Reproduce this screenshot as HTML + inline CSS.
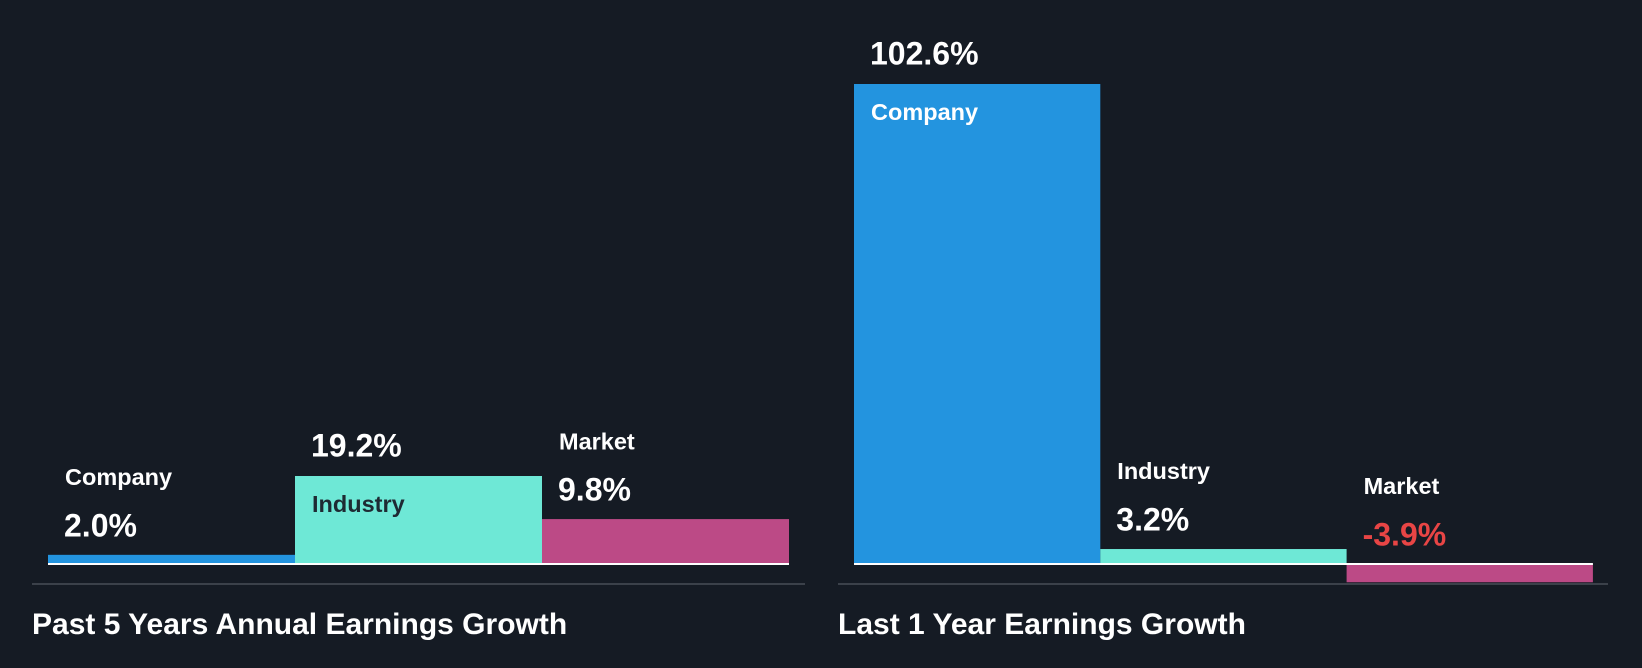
<!DOCTYPE html>
<html><head><meta charset="utf-8"><style>
html,body{margin:0;padding:0;background:#151b24;}
svg{display:block;font-family:"Liberation Sans",sans-serif;font-weight:bold;}
</style></head><body>
<svg id="c" width="1642" height="668">
<rect width="1642" height="668" fill="#151b24"/>
</svg>
<script>
const categories = ["Company","Industry","Market"];
const past5Values = [2.0, 19.2, 9.8];
const last1Values = [102.6, 3.2, -3.9];
const panelTitles = ["Past 5 Years Annual Earnings Growth","Last 1 Year Earnings Growth"];
const colors = ["#2394df","#6ee8d6","#bc4a86"];
const svg = document.getElementById('c');
const NS = "http://www.w3.org/2000/svg";
function el(tag, attrs){const e=document.createElementNS(NS,tag);for(const k in attrs)e.setAttribute(k,attrs[k]);svg.appendChild(e);return e;}
const baseY = 564;
const panels = [
  {vals: past5Values, x0: 48, bw: 247, lineX: 32, lineW: 773, scale: 88/19.2, titleX: 32},
  {vals: last1Values, x0: 854, bw: 246.3, lineX: 838, lineW: 770, scale: 480/102.6, titleX: 838}
];
panels.forEach((p, pi) => {
  const y = v => baseY - v * p.scale;
  p.vals.forEach((v, i) => {
    const x = p.x0 + i * p.bw;
    const top = Math.min(y(v), baseY), h = Math.abs(y(v) - baseY);
    const r = el('rect', {x: x, y: top, width: p.bw, height: Math.max(h, 1), fill: colors[i]});
    
    
    const inside = h > 60 && v > 0;
    let nameY, valY, nameFill = '#ffffff';
    const refTop = v > 0 ? y(v) : baseY;
    if (inside) { valY = refTop - 28; nameY = refTop + 30; if (i === 1) nameFill = '#1e2a33'; }
    else { nameY = refTop - 76; valY = refTop - 27; }
    const t1 = el('text', {x: x + 17, y: nameY, fill: nameFill, 'font-size': 23.5, 'dominant-baseline': 'middle'});
    t1.textContent = categories[i];
    
    
    const t2 = el('text', {x: x + 16, y: valY, fill: v < 0 ? '#e84545' : '#ffffff', 'font-size': 32, 'dominant-baseline': 'middle'});
    t2.textContent = v.toFixed(1) + '%';
    
    
  });
  const bl = el('rect', {x: p.x0, y: baseY - 1, width: p.bw * 3, height: 2, fill: '#ffffff'});
  
  
  const gl = el('rect', {x: p.lineX, y: 583, width: p.lineW, height: 2, fill: '#3b414a'});
  
  
  const tt = el('text', {x: p.titleX, y: 626, fill: '#ffffff', 'font-size': 30, 'dominant-baseline': 'middle'});
  tt.textContent = panelTitles[pi];
  
  
});
</script>
</body></html>
